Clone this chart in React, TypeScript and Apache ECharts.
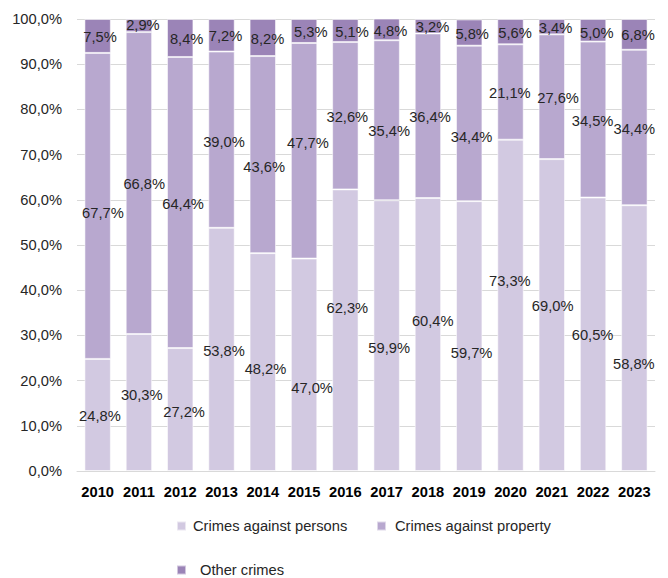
import React, { useEffect, useRef } from "react";
import * as echarts from "echarts";

const years = ["2010", "2011", "2012", "2013", "2014", "2015", "2016", "2017", "2018", "2019", "2020", "2021", "2022", "2023"];
const persons = [24.8, 30.3, 27.2, 53.8, 48.2, 47.0, 62.3, 59.9, 60.4, 59.7, 73.3, 69.0, 60.5, 58.8];
const property = [67.7, 66.8, 64.4, 39.0, 43.6, 47.7, 32.6, 35.4, 36.4, 34.4, 21.1, 27.6, 34.5, 34.4];
const other = [7.5, 2.9, 8.4, 7.2, 8.2, 5.3, 5.1, 4.8, 3.2, 5.8, 5.6, 3.4, 5.0, 6.8];
const yTicks = [0, 10, 20, 30, 40, 50, 60, 70, 80, 90, 100];

// label nudges (layout only, in px) as placed in the reference
const personsLabelDx = [2.3, 2.8, 3.9, 2.5, 2.7, 8, 2, 2.5, 4.8, 2.4, -0.7, 0.9, -0.5, -0.5];
const personsLabelDy = [1, -7.5, 2, 2, 7, 23, -22, 12, -13, 17, -24, -9, 1, 26];
const propertyLabelDx = [5.3, 5.3, 2.9, 2.5, 1.4, 3.8, 2, 2.5, 2.1, 2.4, -0.7, 6.3, -0.5, 0];
const propertyLabelDy = [7, 1, 1.5, 2, 12, -7.5, 1.5, 11, 1.5, 14, 1, 1.5, 1, 2];
const otherLabelDx = [2.3, 4, 6.4, 4.1, 4.7, 6.7, 6.6, 3.9, 4.6, 2.9, 4.5, 3.8, 3.7, 3.6];
const otherLabelDy = [1.4, -0.6, 1.3, 0.7, 1.8, 1.3, 1.8, 1.9, 1.1, 1.2, 1, 1.6, 3, 0.6];

const FONT = "'Liberation Sans', Arial, sans-serif";
const FS = 14.7;
const fmt = (v: number) => v.toFixed(1).replace(".", ",") + "%";

export default function App() {
  const ref = useRef<HTMLDivElement>(null);
  useEffect(() => {
    if (!ref.current) return;
    const chart = echarts.init(ref.current, undefined, { renderer: "svg" });
    const mk = (vals: number[], dx: number[], dy: number[]) =>
      vals.map((v, i) => ({ value: v, label: { offset: [dx[i], dy[i]] } }));
    const barBase = {
      type: "bar",
      stack: "total",
      barCategoryGap: "36%",
      itemStyle: { borderColor: "rgba(255,255,255,0.55)", borderWidth: 1 },
      label: {
        show: true,
        position: "inside",
        fontFamily: FONT,
        fontSize: FS,
        color: "#262626",
        formatter: (p: any) => fmt(p.value),
      },
    };
    const legendBase = {
      orient: "horizontal",
      padding: 0,
      itemWidth: 9,
      itemHeight: 9,
      icon: "rect",
      selectedMode: false,
    };
    chart.setOption({
      animation: false,
      color: ["#d2c9e1", "#b8a8cf", "#9b84b7"],
      grid: { left: 77, right: 13, top: 19, bottom: 107 },
      xAxis: {
        type: "category",
        data: years,
        axisTick: { show: false },
        axisLine: { lineStyle: { color: "#d9d9d9", width: 1 } },
        axisLabel: { interval: 0, fontFamily: FONT, fontSize: FS, fontWeight: "bold", color: "#000", margin: 13 },
      },
      yAxis: {
        type: "value",
        min: yTicks[0],
        max: yTicks[yTicks.length - 1],
        interval: 10,
        axisLine: { show: false },
        axisTick: { show: false },
        splitLine: { lineStyle: { color: "#d9d9d9", width: 1 } },
        axisLabel: { fontFamily: FONT, fontSize: FS, color: "#262626", margin: 15, formatter: (v: number) => fmt(v) },
      },
      legend: [
        { ...legendBase, data: ["Crimes against persons"], left: 176, top: 518.5, textStyle: { fontFamily: FONT, fontSize: FS, color: "#262626", padding: [0, 0, 0, 2] } },
        { ...legendBase, data: ["Crimes against property"], left: 376, top: 518.5, textStyle: { fontFamily: FONT, fontSize: FS, color: "#262626", padding: [0, 0, 0, 4] } },
        { ...legendBase, data: ["Other crimes"], left: 176, top: 562.5, textStyle: { fontFamily: FONT, fontSize: FS, color: "#262626", padding: [0, 0, 0, 9] } },
      ],
      series: [
        { ...barBase, name: "Crimes against persons", data: mk(persons, personsLabelDx, personsLabelDy) },
        { ...barBase, name: "Crimes against property", data: mk(property, propertyLabelDx, propertyLabelDy) },
        { ...barBase, name: "Other crimes", data: mk(other, otherLabelDx, otherLabelDy) },
      ],
    });
    return () => chart.dispose();
  }, []);
  return <div ref={ref} style={{ width: 668, height: 578, position: "absolute", left: 0, top: 0 }} />;
}
